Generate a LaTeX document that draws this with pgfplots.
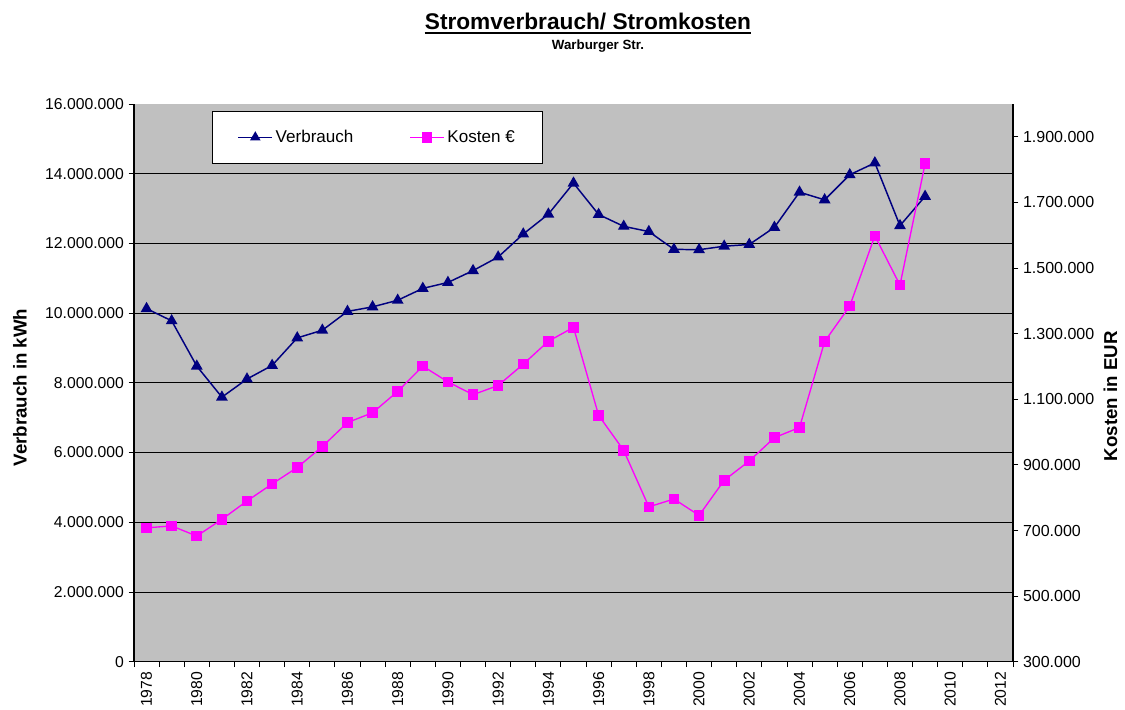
\documentclass[border=0pt]{standalone}
\usepackage{fontspec}
\setmainfont{Liberation Sans}
\usepackage{pgfplots}
\pgfplotsset{compat=1.18}

\definecolor{verbr}{HTML}{000080}
\definecolor{kost}{HTML}{FF00FF}
\definecolor{bggray}{HTML}{C0C0C0}

\pgfplotsset{
  commonax/.style={
    at={(0pt,0pt)}, anchor=south west,
    scale only axis, width=659.25pt, height=418.3pt,
    xmin=1977.5, xmax=2012.5,
    /pgf/number format/assume math mode=true,
    tick label style={font=\fontsize{11.8}{13}\selectfont},
  },
  fixlines/.style={
    axis line style={-, line width=0.9pt, black},
    x axis line style={-}, y axis line style={-},
    tick align=outside,
    major tick length=4pt, minor tick length=4pt,
    tick style={black, line width=0.7pt},
  },
}

\begin{document}
\begin{tikzpicture}
\useasboundingbox (-100.5pt,-36.2pt) rectangle (743.25pt,496.3pt);

% Verbrauch, linke Achse
\begin{axis}[
  commonax,
  axis background/.style={fill=bggray},
  ymin=0, ymax=16000000,
  axis x line=bottom, axis y line=left,
  fixlines,
  xtick={1978,1980,1982,1984,1986,1988,1990,1992,1994,1996,1998,2000,2002,2004,2006,2008,2010,2012},
  major x tick style={draw=none},
  minor xtick={1977.5,1978.5,...,2012.5},
  x tick label style={rotate=90, anchor=east, /pgf/number format/1000 sep={}},
  ytick={0,2000000,4000000,6000000,8000000,10000000,12000000,14000000},
  extra y ticks={16000000},
  extra y tick style={grid=none},
  scaled y ticks=false,
  y tick label style={/pgf/number format/.cd, fixed, precision=0, 1000 sep={.}},
  ymajorgrids,
  major grid style={black, line width=0.6pt},
  every axis y label/.style={at={(rel axis cs:-0.1297,0.4917)}, rotate=90, anchor=center},
  ylabel={\bfseries\fontsize{14}{16}\selectfont Verbrauch in kWh},
]
\addplot[color=verbr, line width=1.1pt, mark=triangle*, mark size=4pt] coordinates {
(1978,10130000) (1979,9780000) (1980,8480000) (1981,7590000) (1982,8110000)
(1983,8500000) (1984,9290000) (1985,9510000) (1986,10050000) (1987,10180000)
(1988,10370000) (1989,10710000) (1990,10880000) (1991,11220000) (1992,11610000)
(1993,12270000) (1994,12840000) (1995,13730000) (1996,12830000) (1997,12490000)
(1998,12340000) (1999,11830000) (2000,11820000) (2001,11920000) (2002,11970000)
(2003,12460000) (2004,13470000) (2005,13250000) (2006,13970000) (2007,14310000)
(2008,12510000) (2009,13350000)
};
\end{axis}

% Kosten, rechte Achse
\begin{axis}[
  commonax,
  ymin=300000, ymax=2000000,
  axis x line=none, axis y line=right,
  fixlines,
  ytick={300000,500000,700000,900000,1100000,1300000,1500000,1700000,1900000},
  scaled y ticks=false,
  y tick label style={font=\fontsize{12}{13}\selectfont, /pgf/number format/.cd, fixed, precision=0, 1000 sep={.}},
  every axis y label/.style={at={(rel axis cs:1.111,0.476)}, rotate=90, anchor=center},
  ylabel={\bfseries\fontsize{14}{16}\selectfont Kosten in EUR},
  legend columns=2,
  legend image code/.code={\draw[mark repeat=2, mark phase=2, #1] plot coordinates {(0pt,0pt) (12.75pt,0pt) (25.5pt,0pt)};},
  legend style={at={(rel axis cs:0.0884,0.9875)}, anchor=north west,
    draw=black, line width=0.8pt, fill=white,
    inner xsep=19pt, inner ysep=12pt,
    font=\fontsize{12.8}{14}\selectfont,
    /tikz/every even column/.append style={column sep=40pt}},
]
\addlegendimage{color=verbr, line width=1.1pt, mark=triangle*, mark size=3.5pt}
\addlegendentry{Verbrauch}
\addplot[color=kost, line width=1pt, mark=square*, mark size=3.5pt] coordinates {
(1978,708000) (1979,714000) (1980,683000) (1981,734000) (1982,790000)
(1983,842000) (1984,892000) (1985,956000) (1986,1029000) (1987,1059000)
(1988,1124000) (1989,1201000) (1990,1153000) (1991,1114000) (1992,1142000)
(1993,1207000) (1994,1277000) (1995,1319000) (1996,1051000) (1997,944000)
(1998,772000) (1999,796000) (2000,746000) (2001,853000) (2002,912000)
(2003,983000) (2004,1014000) (2005,1276000) (2006,1384000) (2007,1598000)
(2008,1448000) (2009,1818000)
};
\addlegendentry{Kosten €}
\end{axis}

% Titel
\node[anchor=base, inner sep=0pt, font=\bfseries\fontsize{17}{20}\selectfont] (titel) at (340.5pt,474.5pt) {Stromverbrauch/ Stromkosten};
\draw[line width=2pt] ([yshift=-3pt]titel.base west) -- ([yshift=-3pt]titel.base east);
\node[anchor=base, inner sep=0pt, font=\bfseries\fontsize{10}{12}\selectfont] at (348pt,458.8pt) {Warburger Str.};
\end{tikzpicture}
\end{document}
